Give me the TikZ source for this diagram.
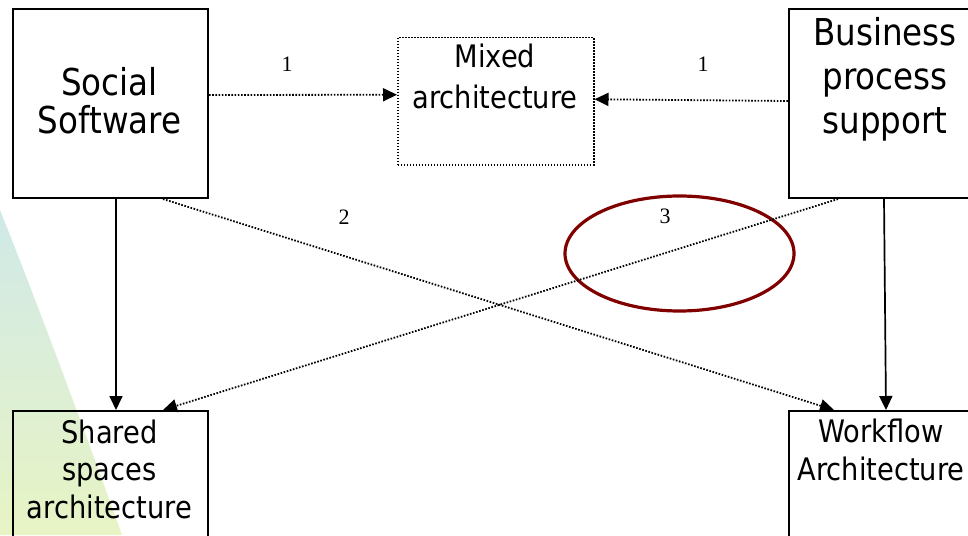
\documentclass[tikz,border=0pt]{standalone}
\usepackage{fontspec}
\setmainfont{DejaVu Sans}[FakeStretch=0.88]
\newfontfamily\numfont{Liberation Serif}
\usetikzlibrary{arrows.meta,shapes.geometric}
\definecolor{ringred}{RGB}{128,0,0}
\definecolor{bgtop}{RGB}{208,233,232}
\definecolor{bgmid}{RGB}{218,237,212}
\definecolor{bgbot}{RGB}{232,244,196}
\begin{document}
\begin{tikzpicture}[x=1pt,y=-1pt,
  box/.style={draw=black, line width=2pt, minimum width=195pt, inner sep=0pt, anchor=north west},
  dotbox/.style={draw=black, line width=1.5pt, dash pattern=on 1.5pt off 1.5pt, inner sep=0pt, anchor=north west},
  bigtext/.style={inner sep=0pt, anchor=north, align=center},
  midtext/.style={inner sep=0pt, anchor=north, align=center},
  numlabel/.style={inner sep=0pt, font=\numfont\fontsize{22}{24}\selectfont},
  tip/.style={-{Triangle[length=14pt,width=13pt]}},
  solidarrow/.style={tip, line width=1.7pt},
  dotarrow/.style={tip, line width=1.8pt, dash pattern=on 1.6pt off 1.6pt},
  ring/.style={ellipse, draw=ringred, line width=3.2pt, inner sep=0pt}
]
\useasboundingbox (0,0) rectangle (968,535);
\clip (0,0) rectangle (968,535);

% background swoosh
\shade[top color=bgtop, middle color=bgmid, bottom color=bgbot]
  (0,210) .. controls (40,310) and (90,445) .. (122,535) -- (0,535) -- cycle;

% boxes
\node[box, minimum height=189pt] (ss) at (12,8) {};
\node[box, minimum height=189pt] (bps) at (788,8) {};
\node[dotbox, minimum width=196pt, minimum height=127pt] (mix) at (397,37) {};
\node[box, minimum height=200pt] (sh) at (12,410) {};
\node[box, minimum height=200pt] (wf) at (788,410) {};

% texts
\node[bigtext, font=\fontsize{37}{38}\selectfont] (sstext) at (109.5,67) {Social\\Software};
\node[bigtext, font=\fontsize{37}{44}\selectfont] (bpstext) at (885,17) {Business\\process\\support};
\node[midtext, font=\fontsize{31}{41}\selectfont] (mixtext) at (495,44) {Mixed\\architecture};
\node[midtext, font=\fontsize{31}{37.5}\selectfont] (shtext) at (109.5,419.5) {Shared\\spaces\\architecture};
\node[midtext, font=\fontsize{31}{38}\selectfont] (wftext) at (881,418.5) {Workflow\\Architecture};

% ring
\node[ring, minimum width=229pt, minimum height=115pt] (ringnode) at (679.5,253.5) {};

% connectors
\draw[dotarrow] ([yshift=8.5pt]ss.east) -- ([yshift=6.5pt]mix.west);
\draw[dotarrow] ([yshift=2.5pt]bps.west) -- ([yshift=2pt]mix.east);
\draw[solidarrow] ([xshift=5.5pt]ss.south) -- ([xshift=5.5pt]sh.north);
\draw[solidarrow] ([xshift=-2.5pt]bps.south) -- ([xshift=-0.5pt]wf.north);
\draw[dotarrow] ([xshift=52.5pt]ss.south) -- ([xshift=-52.5pt]wf.north);
\draw[dotarrow] ([xshift=-48.5pt]bps.south) -- ([xshift=52.5pt]sh.north);

% labels
\node[numlabel] (l1a) at (287,64) {1};
\node[numlabel] (l1b) at (703,64) {1};
\node[numlabel] (l2) at (344,217) {2};
\node[numlabel] (l3) at (665,216) {3};
\end{tikzpicture}
\end{document}
